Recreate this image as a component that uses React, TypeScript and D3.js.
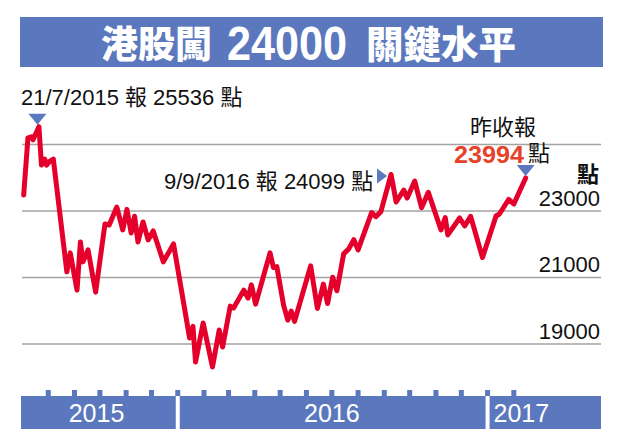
import React from "react";
import * as d3 from "d3";

const W = 622;
const H = 446;

const titleLeft = "港股闖";
const titleNumber = "24000";
const titleRight = "關鍵水平";

const dates = [
  "2015-07-03", "2015-07-08", "2015-07-12", "2015-07-14", "2015-07-21", "2015-07-24", "2015-07-28", "2015-07-30",
  "2015-08-03", "2015-08-07", "2015-08-23", "2015-08-27", "2015-09-04", "2015-09-08", "2015-09-11", "2015-09-17",
  "2015-09-26", "2015-10-07", "2015-10-12", "2015-10-21", "2015-10-28", "2015-11-02", "2015-11-07", "2015-11-11",
  "2015-11-15", "2015-11-21", "2015-11-27", "2015-12-03", "2015-12-15", "2015-12-27", "2016-01-15", "2016-01-19",
  "2016-01-22", "2016-01-31", "2016-02-11", "2016-02-19", "2016-02-23", "2016-03-03", "2016-03-07", "2016-03-19",
  "2016-03-24", "2016-03-28", "2016-04-02", "2016-04-19", "2016-04-23", "2016-04-27", "2016-05-05", "2016-05-10",
  "2016-05-14", "2016-05-18", "2016-06-06", "2016-06-14", "2016-06-21", "2016-06-26", "2016-07-02", "2016-07-07",
  "2016-07-15", "2016-07-21", "2016-07-27", "2016-08-01", "2016-08-17", "2016-08-22", "2016-08-28", "2016-09-09",
  "2016-09-15", "2016-09-24", "2016-09-28", "2016-10-07", "2016-10-15", "2016-10-23", "2016-11-07", "2016-11-12",
  "2016-11-15", "2016-11-29", "2016-12-05", "2016-12-12", "2016-12-26", "2017-01-11", "2017-01-15", "2017-01-26",
  "2017-02-01", "2017-02-15",
];

const values = [
  23480, 25200, 25230, 25140, 25536, 24380, 24560, 24380,
  24500, 24560, 21170, 21740, 20620, 22070, 21470, 21830,
  20560, 22610, 22580, 23120, 22430, 23050, 22340, 22840,
  22070, 22670, 22130, 22400, 21470, 22010, 19180, 19530,
  18460, 19630, 18310, 19420, 18910, 20140, 20080, 20620,
  20380, 20780, 20200, 21740, 21300, 21330, 20170, 19720,
  19990, 19680, 21350, 20070, 20800, 20220, 21010, 20600,
  21710, 21860, 22140, 21830, 22950, 22830, 22980, 24099,
  23270, 23630, 23390, 23900, 23100, 23560, 22430, 22800,
  22280, 22790, 22550, 22840, 21600, 22850, 22910, 23350,
  23210, 23994,
];

const gridValues = [19000, 21000, 23000, 25000];
const yLabelValues = [19000, 21000, 23000];
const yearLabels = ["2015", "2016", "2017"];
const yearLabelDates = ["2015-09-27", "2016-07-01", "2017-01-01"];
const yearDividers = ["2016-01-01", "2017-01-01"];

const peakIndex = 4; // 21/7/2015
const sepIndex = 63; // 9/9/2016
const lastIndex = values.length - 1;

const BLUE = "#5B78BE";
const RED = "#E5002B";
const LATIN = "'Liberation Sans', Arial, 'Noto Sans CJK TC', sans-serif";
const CJK = "'Noto Sans CJK TC', 'Liberation Sans', sans-serif";

export default function App() {
  const x = d3
    .scaleUtc()
    .domain([new Date("2015-07-01"), new Date("2017-05-15")])
    .range([22, 601]);
  const y = d3.scaleLinear().domain([19000, 25000]).range([344, 144.5]);

  const pts = dates.map((d, i) => ({ d: new Date(d), v: values[i] }));
  const line = d3
    .line<{ d: Date; v: number }>()
    .x((p) => x(p.d))
    .y((p) => y(p.v));

  const months = d3.utcMonths(new Date("2015-08-01"), new Date("2017-02-02"));

  const pk = pts[peakIndex];
  const sp = pts[sepIndex];
  const ls = pts[lastIndex];

  const downTri = (cx: number, apexY: number) =>
    `M${cx - 9},${apexY - 11} L${cx + 9},${apexY - 11} L${cx},${apexY} Z`;
  const rightTri = (tipX: number, cy: number) =>
    `M${tipX - 10},${cy - 7.5} L${tipX - 10},${cy + 7.5} L${tipX},${cy} Z`;

  const axisTop = 396;
  const axisBottom = 429;

  return (
    <svg
      width={W}
      height={H}
      style={{ position: "absolute", left: 0, top: 0, background: "#fff" }}
    >
      <rect x={0} y={0} width={W} height={H} fill="#ffffff" />
      {/* title */}
      <rect x={20} y={17} width={583} height={50} fill={BLUE} />
      <text x={101} y={58} fill="#fff" fontFamily={CJK} fontWeight={900} fontSize={37}>
        {titleLeft}
      </text>
      <text
        x={227}
        y={60}
        fill="#fff"
        fontFamily={LATIN}
        fontWeight={700}
        fontSize={48}
        textLength={120}
        lengthAdjust="spacingAndGlyphs"
      >
        {titleNumber}
      </text>
      <text x={366} y={58} fill="#fff" fontFamily={CJK} fontWeight={900} fontSize={37.5}>
        {titleRight}
      </text>

      {/* gridlines */}
      {gridValues.map((v) => (
        <line
          key={v}
          x1={22}
          x2={601}
          y1={y(v)}
          y2={y(v)}
          stroke="#a3a3a3"
          strokeWidth={1.6}
        />
      ))}
      {yLabelValues.map((v) => (
        <text
          key={v}
          x={600}
          y={y(v) - 5.5}
          textAnchor="end"
          fontFamily={LATIN}
          fontSize={22}
          fill="#111"
        >
          {v}
        </text>
      ))}
      <text
        x={599}
        y={182}
        textAnchor="end"
        fontFamily={CJK}
        fontWeight={700}
        fontSize={22}
        fill="#111"
      >
        點
      </text>

      {/* series */}
      <path
        d={line(pts) || ""}
        fill="none"
        stroke={RED}
        strokeWidth={5}
        strokeLinejoin="round"
        strokeLinecap="round"
      />

      {/* annotations */}
      <path d={downTri(x(pk.d) - 1.5, y(pk.v) - 2)} fill={BLUE} />
      <text x={21} y={105} fontFamily={LATIN} fontSize={22} fill="#111">
        21/7/2015 <tspan fontFamily={CJK}>報</tspan> 25536 <tspan fontFamily={CJK}>點</tspan>
      </text>

      <path d={rightTri(x(sp.d) - 4, y(sp.v) + 1.5)} fill={BLUE} />
      <text x={164} y={189} fontFamily={LATIN} fontSize={22} fill="#111">
        9/9/2016 <tspan fontFamily={CJK}>報</tspan> 24099 <tspan fontFamily={CJK}>點</tspan>
      </text>

      <path d={downTri(x(ls.d), y(ls.v) - 2)} fill={BLUE} />
      <text x={470} y={135} fontFamily={CJK} fontSize={22} fill="#111">
        昨收報
      </text>
      <text
        x={454}
        y={163}
        fontFamily={LATIN}
        fontWeight={700}
        fontSize={23}
        fill="#E8412A"
        textLength={70}
        lengthAdjust="spacingAndGlyphs"
      >
        23994
      </text>
      <text x={528} y={161} fontFamily={CJK} fontSize={22} fill="#111">
        點
      </text>

      {/* x axis */}
      {months.map((m) => (
        <rect
          key={m.toISOString()}
          x={x(m) - 2.5}
          y={axisTop - 6}
          width={5}
          height={7}
          fill={BLUE}
        />
      ))}
      <rect x={21} y={axisTop} width={580} height={axisBottom - axisTop} fill={BLUE} />
      {yearDividers.map((d) => (
        <rect
          key={d}
          x={x(new Date(d)) - 2}
          y={axisTop}
          width={4}
          height={axisBottom - axisTop}
          fill="#fff"
        />
      ))}
      {yearLabels.map((lab, i) => (
        <text
          key={lab}
          x={i === 2 ? x(new Date(yearLabelDates[i])) + 6 : x(new Date(yearLabelDates[i]))}
          y={422}
          textAnchor={i === 2 ? "start" : "middle"}
          fill="#fff"
          fontFamily={LATIN}
          fontSize={25}
        >
          {lab}
        </text>
      ))}
    </svg>
  );
}
